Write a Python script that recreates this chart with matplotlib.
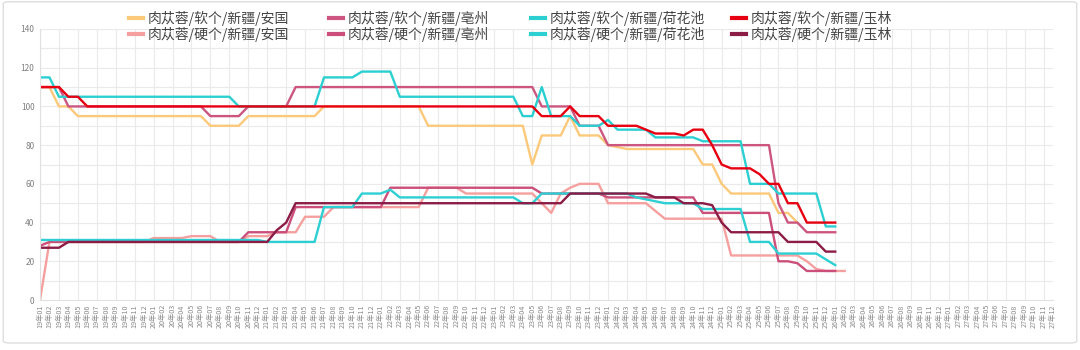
import matplotlib
matplotlib.use('Agg')
import matplotlib.pyplot as plt
from matplotlib.patches import FancyBboxPatch
import numpy as np

plt.rcParams['font.family'] = ['Noto Sans CJK SC', 'DejaVu Sans']

# month labels 19年01 .. 27年12
months = [f'{y}年{m:02d}' for y in range(19, 28) for m in range(1, 13)]

names = ['肉苁蓉/软个/新疆/安国', '肉苁蓉/软个/新疆/亳州', '肉苁蓉/软个/新疆/荷花池', '肉苁蓉/软个/新疆/玉林',
         '肉苁蓉/硬个/新疆/安国', '肉苁蓉/硬个/新疆/亳州', '肉苁蓉/硬个/新疆/荷花池', '肉苁蓉/硬个/新疆/玉林']
colors = ['#FCC97A', '#CC5680', '#2CCFD1', '#E60012',
          '#F5A09E', '#CB4F7A', '#2DCFD3', '#8B1C45']

soft_anguo = [110, 110, 100, 100,
              95, 95, 95, 95, 95, 95, 95, 95, 95, 95, 95, 95, 95, 95,
              90, 90, 90, 90,
              95, 95, 95, 95, 95, 95, 95, 95,
              100, 100, 100, 100, 100, 100, 100, 100, 100, 100, 100,
              90, 90, 90, 90, 90, 90, 90, 90, 90, 90, 90,
              70, 85, 85, 85, 95, 85, 85, 85, 80, 79,
              78, 78, 78, 78, 78, 78, 78, 78,
              70, 70, 60, 55, 55, 55, 55, 55, 45, 45, 40]
soft_bozhou = [110, 110, 110,
               100, 100, 100, 100, 100, 100, 100, 100, 100, 100, 100, 100, 100, 100, 100,
               95, 95, 95, 95,
               100, 100, 100, 100, 100,
               110, 110, 110, 110, 110, 110, 110, 110, 110, 110, 110, 110, 110,
               110, 110, 110, 110, 110, 110, 110, 110, 110, 110, 110, 110, 110,
               100, 100, 100, 100,
               90, 90, 90,
               80, 80, 80, 80, 80, 80, 80, 80, 80, 80, 80, 80, 80, 80, 80, 80, 80, 80,
               50, 40, 40, 35, 35, 35, 35]
soft_hehuachi = [115, 115,
                 105, 105, 105, 105, 105, 105, 105, 105, 105, 105, 105, 105, 105, 105, 105, 105, 105, 105, 105,
                 100, 100, 100, 100, 100, 100, 100, 100, 100,
                 115, 115, 115, 115,
                 118, 118, 118, 118,
                 105, 105, 105, 105, 105, 105, 105, 105, 105, 105, 105, 105, 105,
                 95, 95, 110, 95, 95, 95,
                 90, 90, 90, 93,
                 88, 88, 88, 88,
                 84, 84, 84, 84, 84,
                 82, 82, 82, 82, 82,
                 60, 60, 60,
                 55, 55, 55, 55, 55,
                 38, 38]
soft_yulin = [110, 110, 110, 105, 105,
              100, 100, 100, 100, 100, 100, 100, 100, 100, 100, 100, 100,
              100, 100, 100, 100, 100, 100, 100, 100, 100, 100, 100, 100,
              100, 100, 100, 100, 100, 100, 100, 100, 100, 100, 100, 100,
              100, 100, 100, 100, 100, 100, 100, 100, 100, 100, 100, 100,
              95, 95, 95, 100, 95, 95, 95,
              90, 90, 90, 90, 88, 86, 86, 86, 85, 88, 88, 80, 70,
              68, 68, 68, 65, 60, 60, 50, 50, 40, 40, 40, 40]
hard_anguo = [0, 30,
              30, 30, 30, 30, 30, 30, 30, 30, 30, 30,
              32, 32, 32, 32, 33, 33, 33,
              30, 30, 30, 33, 33, 33, 35, 35, 35, 43, 43, 43,
              48, 48, 48, 48, 48, 48, 48, 48, 48, 48,
              58, 58, 58, 58,
              55, 55, 55, 55, 55, 55, 55, 55,
              50, 45, 55, 58, 60, 60, 60,
              50, 50, 50, 50, 50, 46,
              42, 42, 42, 42, 42, 42, 42,
              23, 23, 23, 23, 23, 23, 23, 23,
              20, 16, 15, 15, 15]
hard_bozhou = [28,
               30, 30, 30, 30, 30, 30, 30, 30, 30, 30, 30, 30, 30, 30, 30, 30, 30, 30, 30, 30, 30,
               35, 35, 35, 35, 35,
               48, 48, 48, 48, 48, 48, 48, 48, 48, 48,
               58, 58, 58, 58, 58, 58, 58, 58, 58, 58, 58, 58, 58, 58, 58, 58,
               55, 55, 55, 55, 55, 55, 55,
               53, 53, 53, 53, 53, 53, 53, 53, 53, 53,
               45, 45, 45, 45, 45, 45, 45, 45,
               20, 20, 19, 15, 15, 15, 15]
hard_hehuachi = [31, 31, 31, 31, 31, 31, 31, 31, 31, 31, 31, 31,
                 31, 31, 31, 31, 31, 31, 31, 31, 31, 31, 31, 31,
                 30, 30, 30, 30, 30, 30,
                 48, 48, 48, 48, 55, 55, 55, 57,
                 53, 53, 53, 53, 53, 53, 53, 53, 53, 53, 53, 53, 53,
                 50, 50,
                 55, 55, 55, 55, 55, 55, 55, 55, 55, 55,
                 53, 52, 51, 50, 50, 50, 50,
                 47, 47, 47, 47, 47,
                 30, 30, 30,
                 24, 24, 24, 24, 24,
                 21, 18]
hard_yulin = [27, 27, 27,
              30, 30, 30, 30, 30, 30, 30, 30, 30, 30, 30,
              30, 30, 30, 30, 30, 30, 30, 30, 30, 30, 30,
              36, 40,
              50, 50, 50, 50, 50, 50, 50, 50, 50, 50, 50, 50, 50, 50, 50,
              50, 50, 50, 50, 50, 50, 50, 50, 50, 50, 50, 50, 50, 50,
              55, 55, 55, 55, 55, 55, 55, 55, 55,
              53, 53, 53, 50, 50, 50, 49, 40,
              35, 35, 35, 35, 35, 35,
              30, 30, 30, 30, 25, 25]

series = [soft_anguo, soft_bozhou, soft_hehuachi, soft_yulin,
          hard_anguo, hard_bozhou, hard_hehuachi, hard_yulin]

fig = plt.figure(figsize=(10.8, 3.5), dpi=100)
fig.patches.append(FancyBboxPatch((0.003, 0.02), 0.994, 0.975,
                                  boxstyle='round,pad=0,rounding_size=0.006',
                                  transform=fig.transFigure, facecolor='none',
                                  edgecolor='#DDDDDD', linewidth=1.0, zorder=-5))
ax = fig.add_axes([40 / 1080, 1 - 300 / 350, (1053 - 40) / 1080, (300 - 29) / 350])
ax.set_facecolor('none')

lines = []
for vals, name, c in zip(series, names, colors):
    ln, = ax.plot(np.arange(len(vals)), vals, color=c, lw=1.7, label=name,
                  solid_joinstyle='round')
    lines.append(ln)

ax.set_xlim(0, len(months) - 1)
ax.set_ylim(0, 140)
ax.set_xticks(np.arange(len(months)))
ax.set_xticklabels(months, rotation=90, fontsize=5.2, color='#8A8A8A')
ax.set_yticks(np.arange(0, 141, 20))
ax.tick_params(axis='y', labelsize=6, colors='#808080', length=0, pad=4)
ax.tick_params(axis='x', length=0, pad=3)
for xg in range(0, len(months), 2):
    ax.axvline(xg, color='#EAEAEA', lw=0.8, zorder=0)
for yg in range(10, 141, 10):
    ax.axhline(yg, color='#EAEAEA', lw=0.8, zorder=0)
for s in ['top', 'right']:
    ax.spines[s].set_visible(False)
ax.spines['left'].set_color('#E0E0E0')
ax.spines['bottom'].set_color('#E0E0E0')

# legend: 4 columns of 2 rows
col_x = [119, 319, 521, 722]
for i, x0 in enumerate(col_x):
    leg = fig.legend([lines[i], lines[i + 4]], [names[i], names[i + 4]],
                     loc='upper left', bbox_to_anchor=(x0 / 1080, 1 - 1 / 350),
                     frameon=False, fontsize=10, handlelength=1.0, handletextpad=0.4,
                     labelspacing=0.1, borderpad=0.2, labelcolor='#444444')
    for h in leg.legend_handles:
        h.set_linewidth(3)

fig.savefig('out.png', dpi=100, facecolor='white')
